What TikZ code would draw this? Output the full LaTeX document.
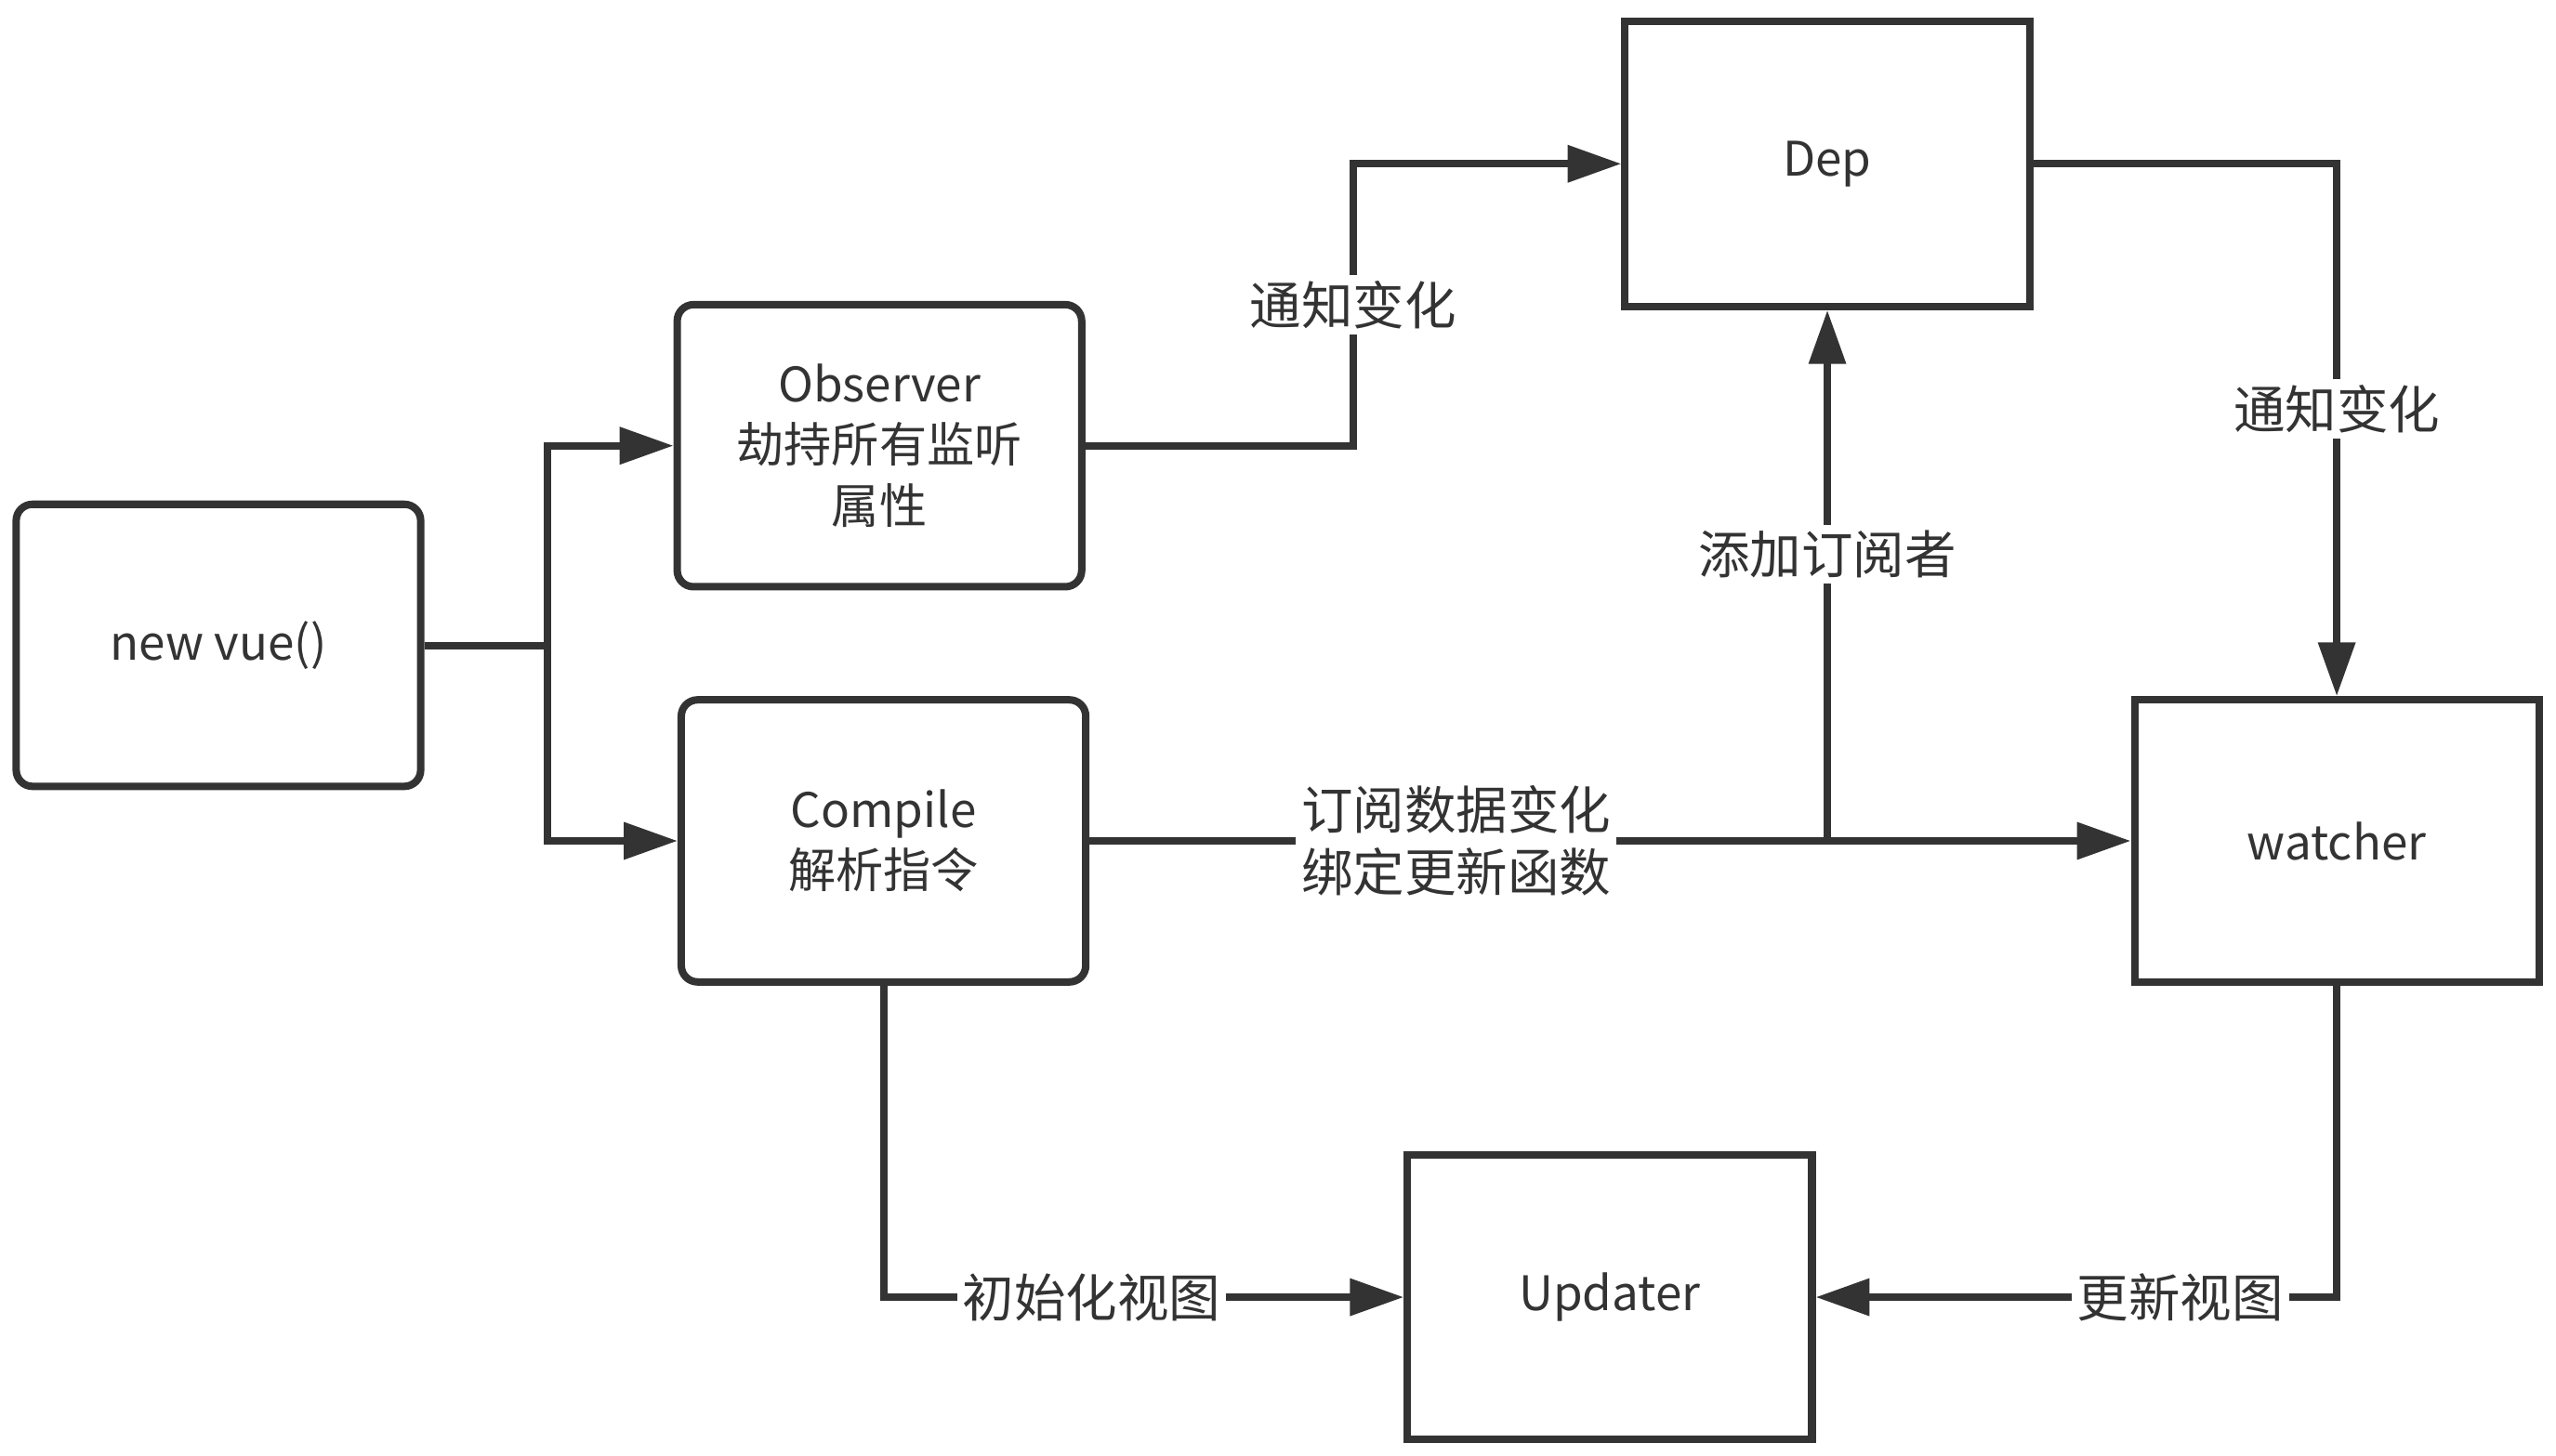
\documentclass[tikz,border=0pt]{standalone}
\usepackage{fontspec}
\setmainfont{Noto Sans CJK SC}
\usetikzlibrary{arrows.meta}
\definecolor{ink}{HTML}{333333}

\begin{document}
\begin{tikzpicture}
[x=0.01cm, y=-0.01cm,
 box/.style={draw=ink, line width=1.3pt, minimum width=2.48cm, minimum height=1.73cm,
  align=center, text=ink, font=\fontsize{8.3}{10.6}\selectfont},
 rbox/.style={box, rounded corners=0.1cm},
 wire/.style={draw=ink, line width=1.3pt},
 arr/.style={wire, -{Triangle[length=0.33cm, width=0.22cm]}},
 lbl/.style={fill=white, text=ink, inner sep=1pt, align=center,
  font=\fontsize{9}{10.8}\selectfont}]
\useasboundingbox (0,0) rectangle (1568,893);
\node [rbox] (vue) at (134,396) {new vue()};
\node [rbox] (obs) at (539.5,273.5) {Observer\\劫持所有监听\\属性};
\node [rbox] (comp) at (542,516) {Compile\\解析指令};
\node [box, minimum height=1.75cm] (dep) at (1121,100.5) {Dep};
\node [box] (watch) at (1433.5,516) {watcher};
\node [box, minimum height=1.74cm] (upd) at (987.5,796) {Updater};
\coordinate (split) at (336,396);
\coordinate (bend) at (830,0);
\draw [wire] (vue.east) -- (split);
\draw [arr] (split) |- (obs.west);
\draw [arr] (split) |- (comp.west);
\draw [arr] (obs.east) -- (obs.east -| bend)
 -- node [lbl] {通知变化} (dep.west -| bend) -- (dep.west);
\draw [arr] (dep.east) -| node [lbl, pos=0.73] {通知变化} (watch.north);
\draw [arr] (comp.east) -- node [lbl, pos=0.352] {订阅数据变化\\绑定更新函数}
 (watch.west);
\draw [arr] (dep.south |- comp.east) -- node [lbl, pos=0.54] {添加订阅者}
 (dep.south);
\draw [arr] (comp.south) |- node [lbl, pos=0.70] {初始化视图} (upd.west);
\draw [arr] (watch.south) |- node [lbl, pos=0.65] {更新视图} (upd.east);
\end{tikzpicture}
\end{document}
